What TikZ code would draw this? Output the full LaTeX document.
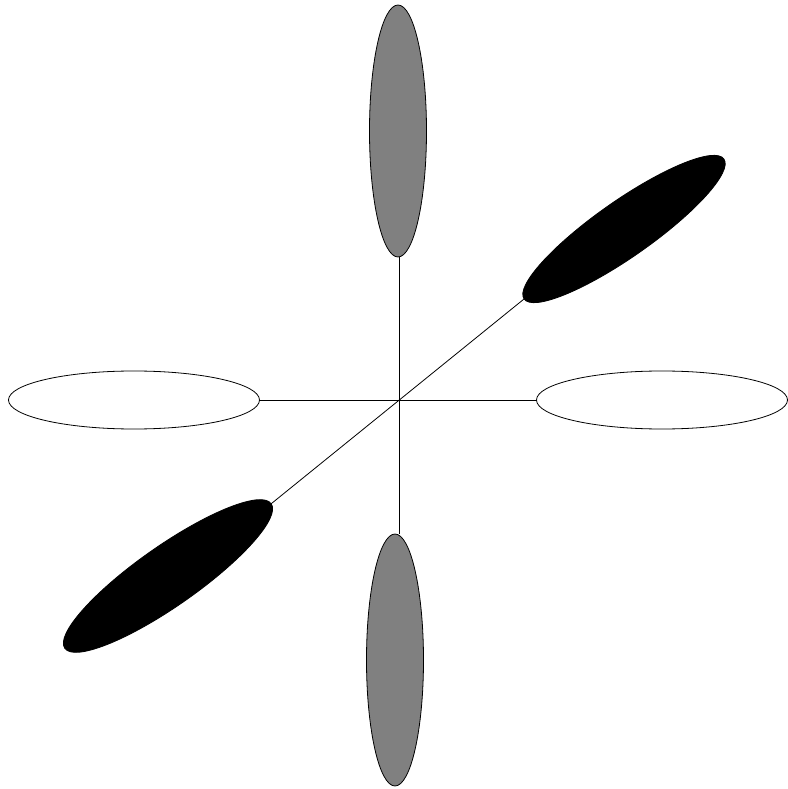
\documentclass[tikz,border=0pt]{standalone}
\usepackage{xcolor}
\usetikzlibrary{shapes.geometric}
\definecolor{lobeGray}{HTML}{808080}
\tikzset{
  axisline/.style={draw=black,line width=0.8pt},
  lobe/.style={ellipse,draw=black,line width=0.8pt,inner sep=0pt,outer sep=0pt},
  vlobe/.style={lobe,minimum width=57pt,minimum height=252pt,fill=lobeGray},
  hlobe/.style={lobe,minimum width=251pt,minimum height=58pt,fill=white},
  dlobe/.style={lobe,rotate=35,fill=black},
}

\begin{document}
\begin{tikzpicture}[x=1pt,y=1pt]

\useasboundingbox (-399,-389) rectangle (388,400);

\coordinate (ctr) at (0,0);

\node[vlobe] (top) at (-1,269) {};
\node[vlobe] (bot) at (-4,-260) {};

\node[hlobe] (lft) at (-265,0) {};
\node[hlobe] (rgt) at (263,0) {};

\node[dlobe,minimum width=244pt,minimum height=56pt] (ur) at (225,171) {};
\node[dlobe,minimum width=252pt,minimum height=60pt] (bl) at (-231,-176) {};

\draw[axisline] (lft.east) -- (rgt.west);
\draw[axisline] (ctr |- top.south) -- (ctr |- bot.north);
\draw[axisline] (bl.east) -- (ur.west);

\end{tikzpicture}
\end{document}
